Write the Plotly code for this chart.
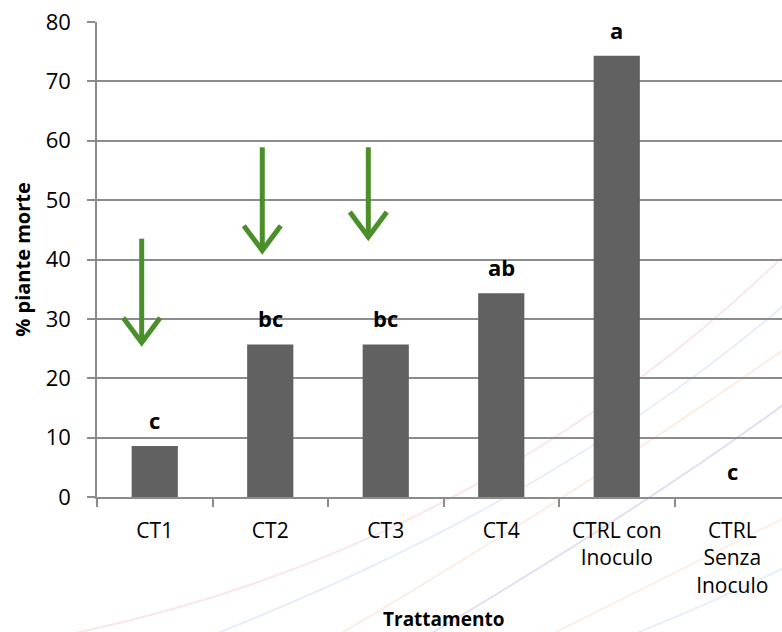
import plotly.graph_objects as go

# Treatments and mortality (%)
categories = ["CT1", "CT2", "CT3", "CT4", "CTRL con<br>Inoculo", "CTRL<br>Senza<br>Inoculo"]
mortality = [8.6, 25.7, 25.7, 34.3, 74.3, 0.0]
letters = ["c", "bc", "bc", "ab", "a", "c"]

# Green arrows pointing at the first three treatments (category-index x, value y)
arrow_x = [-0.113, 0.931, 1.849]
arrow_top = [43.5, 58.9, 58.9]
arrow_tip = [26.0, 41.5, 43.8]

W, H = 782, 632
ML, MR, MT, MB = 97, 0, 22, 135
PW, PH = W - ML - MR, H - MT - MB
X_RANGE = [-0.5, -0.5 + PW / 115.5]

FONT = "Open Sans"
GRID = "#8c8c8c"
GREEN = "#4a8f2a"

fig = go.Figure()

fig.add_trace(go.Bar(
    x=categories, y=mortality, width=0.4,
    marker=dict(color="#616161", line=dict(width=0)),
    showlegend=False, hoverinfo="x+y",
))

# Significance letters above each bar
for c, v, t in zip(categories, mortality, letters):
    fig.add_annotation(x=c, y=v, text=f"<b>{t}</b>", showarrow=False,
                       yshift=26, yanchor="middle",
                       font=dict(family=FONT, size=22, color="#000000"))

# Arrows: shaft plus open chevron head
for ax, top, tip in zip(arrow_x, arrow_top, arrow_tip):
    fig.add_trace(go.Scatter(x=[ax, ax], y=[top, tip + 0.4], xaxis="x2", mode="lines",
                             line=dict(color=GREEN, width=5), showlegend=False,
                             hoverinfo="skip"))
    fig.add_trace(go.Scatter(x=[ax - 0.16, ax, ax + 0.16], y=[tip + 4.2, tip, tip + 4.2],
                             xaxis="x2", mode="lines",
                             line=dict(color=GREEN, width=5), showlegend=False,
                             hoverinfo="skip"))


# Faint decorative swooshes in the background
def px(x, y):
    return (x - ML) / PW, (H - MB - y) / PH


def curve(p0, c, p1):
    a, b, d = px(*p0), px(*c), px(*p1)
    return f"M {a[0]},{a[1]} Q {b[0]},{b[1]} {d[0]},{d[1]}"


swooshes = [
    (((40, 640), (470, 560), (790, 250)), "rgba(240,160,170,0.25)"),
    (((200, 640), (560, 500), (790, 300)), "rgba(160,195,235,0.28)"),
    (((330, 640), (600, 480), (790, 345)), "rgba(245,190,160,0.28)"),
    (((420, 640), (640, 510), (790, 400)), "rgba(160,150,215,0.30)"),
    (((540, 640), (690, 565), (790, 515)), "rgba(245,195,150,0.28)"),
    (((620, 640), (730, 595), (790, 565)), "rgba(160,195,235,0.25)"),
]
for pts, col in swooshes:
    fig.add_shape(type="path", path=curve(*pts), xref="paper", yref="paper",
                  line=dict(color=col, width=2), layer="below")

fig.add_annotation(x=(443 - ML) / PW, y=(H - MB - 619) / PH, xref="paper", yref="paper",
                   text="<b>Trattamento</b>", showarrow=False, yanchor="middle",
                   font=dict(family=FONT, size=19, color="#000000"))

fig.update_layout(
    width=W, height=H,
    margin=dict(l=ML, r=MR, t=MT, b=MB),
    paper_bgcolor="white", plot_bgcolor="rgba(0,0,0,0)",
    font=dict(family=FONT, color="#000000"),
    bargap=0.6,
    xaxis=dict(
        type="category", range=X_RANGE, tickson="boundaries",
        ticks="outside", ticklen=8, tickcolor=GRID, tickwidth=1.5,
        ticklabelstandoff=14,
        showline=True, linecolor=GRID, linewidth=1.5,
        showgrid=False, tickfont=dict(size=21), fixedrange=True,
    ),
    xaxis2=dict(overlaying="x", range=X_RANGE, visible=False, fixedrange=True),
    yaxis=dict(
        range=[0, 80], dtick=10, ticks="outside", ticklen=8,
        tickcolor=GRID, tickwidth=1.5, ticklabelstandoff=12,
        showline=True, linecolor=GRID, linewidth=1.5,
        showgrid=True, gridcolor=GRID, gridwidth=1.5, zeroline=False,
        tickfont=dict(size=22),
        title=dict(text="<b>% piante morte</b>", font=dict(size=20), standoff=10),
    ),
)

fig.write_html("out.html")
